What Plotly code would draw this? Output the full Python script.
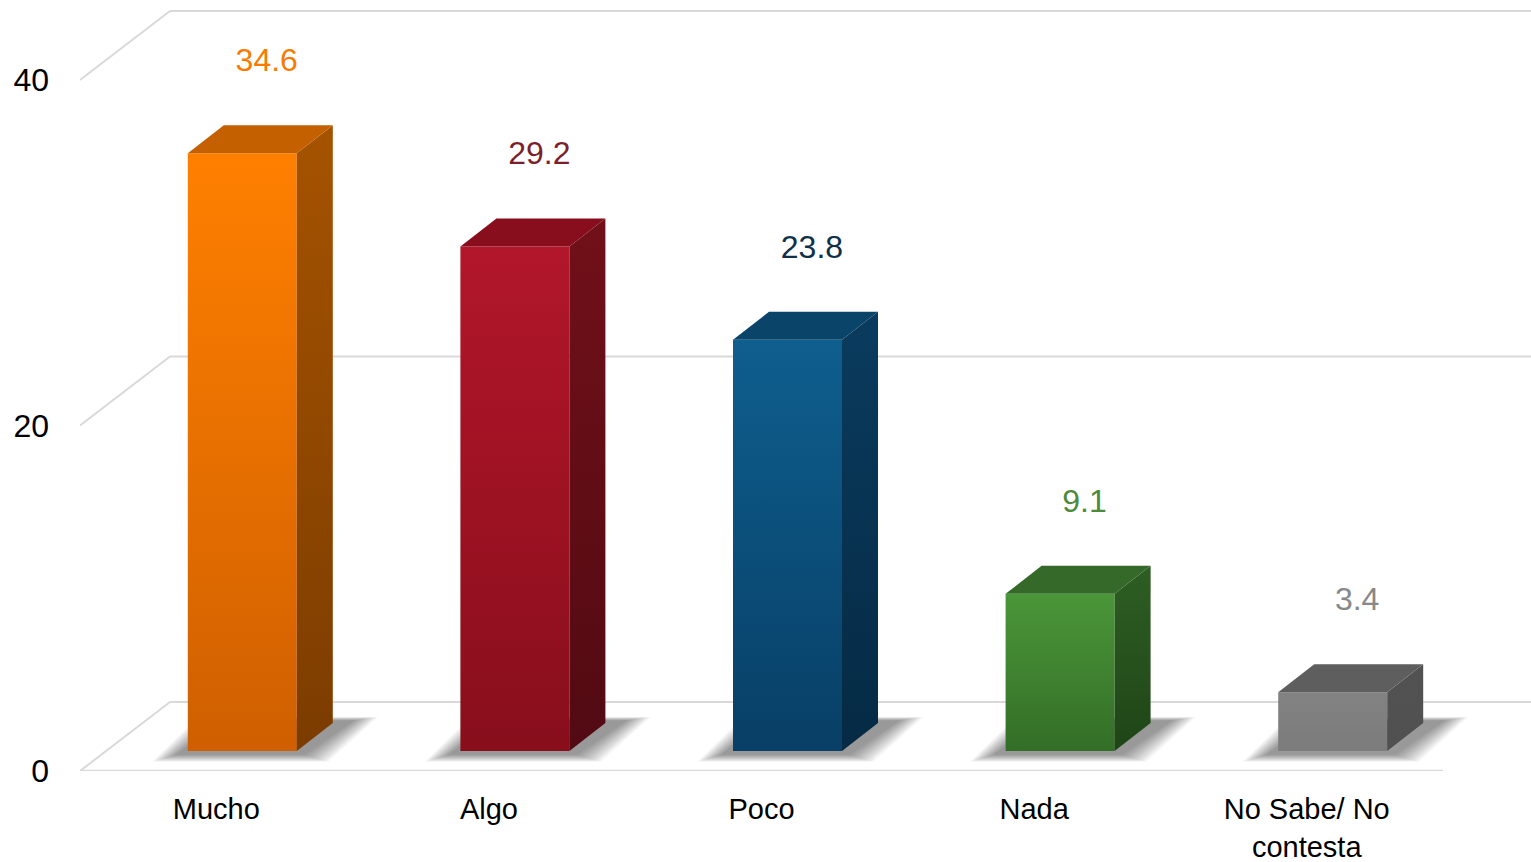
import plotly.graph_objects as go

# ---------------- data ----------------
categories = ["Mucho", "Algo", "Poco", "Nada", "No Sabe/ No<br>contesta"]
values = [34.6, 29.2, 23.8, 9.1, 3.4]
value_labels = ["34.6", "29.2", "23.8", "9.1", "3.4"]
y_ticks = [0, 20, 40]

# ---------------- styles ----------------
front_top = ["#FF8000", "#B2162A", "#0E5E8E", "#4B9639", "#828282"]
front_bot = ["#CF5F00", "#880E1C", "#083F66", "#336E27", "#7C7C7C"]
side_top = ["#A55300", "#711019", "#0A3B5E", "#2E5E23", "#525252"]
side_bot = ["#7C3C00", "#520A12", "#052A44", "#1F4517", "#505050"]
top_col = ["#C46000", "#880E1E", "#0A4468", "#35692A", "#5E5E5E"]
label_col = ["#F57C00", "#7D1F2B", "#10304A", "#4C8A3C", "#888888"]

W, H = 1531, 862
ML, MB = 80, 91
PXX = 272.6    # px per category unit
PXY = 17.275   # px per value unit
x_range = [-0.5, -0.5 + (W - ML) / PXX]
y_range = [0, (H - MB) / PXY]

WALL_DX = 90 / PXX
WALL_DY = 69 / PXY
OFF_DX = 26 / PXX          # bar front plane offset
OFF_DY = 20 / PXY
BAR_W = 109 / PXX
DEP_DX = 36 / PXX          # bar depth
DEP_DY = 28 / PXY
LBL_DX = 0.185
LBL_DY = 6.38

GRID = "#D9D9D9"
FONT = "Liberation Sans"

fig = go.Figure()
shapes = []

# back wall gridlines and left diagonals
for t in y_ticks:
    shapes.append(dict(type="line", xref="x", yref="y",
                       x0=-0.5 + WALL_DX, x1=x_range[1], y0=t + WALL_DY, y1=t + WALL_DY,
                       line=dict(color=GRID, width=2), layer="below"))
    shapes.append(dict(type="line", xref="x", yref="y",
                       x0=-0.5, x1=-0.5 + WALL_DX, y0=t, y1=t + WALL_DY,
                       line=dict(color=GRID, width=2), layer="below"))
# front floor edge
shapes.append(dict(type="line", xref="x", yref="y",
                   x0=-0.5, x1=len(categories) - 0.5, y0=0, y1=0,
                   line=dict(color=GRID, width=2.5), layer="below"))


def poly(xs, ys, **kw):
    fig.add_trace(go.Scatter(x=xs + [xs[0]], y=ys + [ys[0]], mode="lines",
                             fill="toself", line=dict(width=0),
                             hoverinfo="skip", showlegend=False, **kw))


N_SH = 12
for i, v in enumerate(values):
    xl = i + OFF_DX - BAR_W / 2
    xr = i + OFF_DX + BAR_W / 2
    base = OFF_DY
    top = OFF_DY + v

    # soft shadow on the floor (layered to imitate blur)
    for k in range(N_SH):
        f = 1 - k / (N_SH - 1)
        ex = 0.085 * f
        ey = 0.40 * f
        poly([xl - 0.045 - ex, xr + 0.03 + ex,
              xr + DEP_DX + 0.08 + ex, xl + DEP_DX - 0.01 - ex],
             [base - 0.22 - ey, base - 0.22 - ey,
              base + DEP_DY + 0.15 + ey * 0.5, base + DEP_DY + 0.15 + ey * 0.5],
             fillcolor="rgba(0,0,0,0.04)")

    # front face (vertical gradient)
    fig.add_trace(go.Scatter(
        x=[xl, xr, xr, xl, xl], y=[base, base, top, top, base], mode="lines",
        fill="toself", line=dict(width=0),
        fillgradient=dict(type="vertical",
                          colorscale=[[0, front_bot[i]], [1, front_top[i]]]),
        hoverinfo="skip", showlegend=False))
    # side face
    fig.add_trace(go.Scatter(
        x=[xr, xr + DEP_DX, xr + DEP_DX, xr, xr],
        y=[base, base + DEP_DY, top + DEP_DY, top, base], mode="lines",
        fill="toself", line=dict(width=0),
        fillgradient=dict(type="vertical",
                          colorscale=[[0, side_bot[i]], [1, side_top[i]]]),
        hoverinfo="skip", showlegend=False))
    # top face
    poly([xl, xr, xr + DEP_DX, xl + DEP_DX],
         [top, top, top + DEP_DY, top + DEP_DY], fillcolor=top_col[i])

# value labels
fig.add_trace(go.Scatter(
    x=[i + LBL_DX for i in range(len(values))],
    y=[v + LBL_DY for v in values],
    mode="text", text=value_labels,
    textfont=dict(family=FONT, size=32, color=label_col),
    hoverinfo="skip", showlegend=False))

fig.update_layout(
    width=W, height=H,
    margin=dict(l=ML, r=0, t=0, b=MB, pad=0, autoexpand=False),
    paper_bgcolor="white", plot_bgcolor="white",
    shapes=shapes,
    font=dict(family=FONT, color="black"),
    xaxis=dict(range=x_range, tickvals=list(range(len(categories))), ticktext=categories,
               showgrid=False, zeroline=False, showline=False, ticks="",
               tickfont=dict(size=29, color="black"), ticklabelstandoff=18,
               automargin=False, fixedrange=True),
    yaxis=dict(range=y_range, tickvals=y_ticks, ticktext=[str(t) for t in y_ticks],
               showgrid=False, zeroline=False, showline=False, ticks="",
               tickfont=dict(size=32, color="black"), ticklabelstandoff=30,
               automargin=False, fixedrange=True),
)

fig.write_html("out.html", config={"displayModeBar": False},
               post_script="document.body.style.margin='0';document.body.style.overflow='hidden';")
